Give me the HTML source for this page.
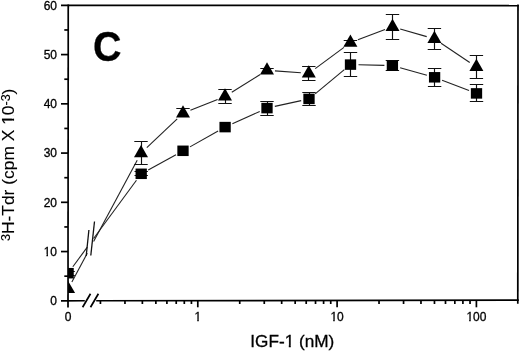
<!DOCTYPE html><html><head><meta charset="utf-8"><style>html,body{margin:0;padding:0;background:#fff;width:520px;height:351px;overflow:hidden}svg{display:block}text{font-family:"Liberation Sans",Arial,Helvetica,sans-serif;fill:#000;stroke:#000;stroke-width:0.3px}</style></head><body>
<svg width="520" height="351" viewBox="0 0 520 351">
<rect width="520" height="351" fill="#fff"/>
<defs><clipPath id="pa"><rect x="68.1" y="0" width="449.9" height="300.7"/></clipPath></defs>
<g fill="none" stroke="#222" stroke-width="1.1">
<line x1="71.88" y1="281.95" x2="87.30" y2="253.23"/>
<line x1="93.60" y1="241.50" x2="137.22" y2="160.25"/>
<line x1="146.80" y1="147.69" x2="177.20" y2="118.81"/>
<line x1="190.42" y1="110.31" x2="217.58" y2="99.39"/>
<line x1="231.79" y1="92.18" x2="260.21" y2="74.52"/>
<line x1="274.98" y1="70.89" x2="300.82" y2="72.81"/>
<line x1="315.23" y1="68.64" x2="343.97" y2="47.36"/>
<line x1="357.89" y1="39.79" x2="385.01" y2="29.61"/>
<line x1="400.19" y1="29.00" x2="426.71" y2="36.60"/>
<line x1="441.05" y1="43.25" x2="469.75" y2="62.45"/>
<line x1="72.84" y1="266.76" x2="87.30" y2="247.09"/>
<line x1="93.60" y1="238.53" x2="136.46" y2="180.24"/>
<line x1="148.21" y1="169.94" x2="175.99" y2="154.66"/>
<line x1="189.97" y1="146.88" x2="218.13" y2="131.02"/>
<line x1="232.39" y1="123.80" x2="259.71" y2="111.40"/>
<line x1="274.81" y1="106.39" x2="301.19" y2="100.61"/>
<line x1="315.17" y1="93.80" x2="344.33" y2="69.70"/>
<line x1="358.50" y1="64.79" x2="384.40" y2="65.41"/>
<line x1="400.11" y1="67.74" x2="426.89" y2="75.16"/>
<line x1="442.07" y1="80.17" x2="469.03" y2="90.53"/>
</g>
<g stroke="#111" stroke-width="1.3" fill="none">
<line x1="88.9" y1="230" x2="86.2" y2="256"/>
<line x1="94.5" y1="221.5" x2="90.8" y2="255.5"/>
</g>
<g clip-path="url(#pa)">
<g stroke="#111" stroke-width="1.15" fill="none">
<path d="M141.5 141.5V153.2M134.3 141.5h13.4"/>
<path d="M141.5 153.2V164.5M134.3 164.5h13.4"/>
<path d="M183.5 108.5V113.3M176.3 108.5h13.4"/>
<path d="M225.5 89.5V96.4M218.3 89.5h13.4"/>
<path d="M225.5 96.4V103.5M218.3 103.5h13.4"/>
<path d="M267.5 68.5V70.3M260.3 68.5h13.4"/>
<path d="M308.5 66.5V73.4M302.1 66.5h13.4"/>
<path d="M308.5 73.4V80.5M302.1 80.5h13.4"/>
<path d="M350.5 40.5V42.6M343.7 40.5h13.4"/>
<path d="M392.5 14.5V26.8M385.8 14.5h13.4"/>
<path d="M392.5 26.8V39.5M385.8 39.5h13.4"/>
<path d="M434.5 28.5V38.8M427.7 28.5h13.4"/>
<path d="M434.5 38.8V49.5M427.7 49.5h13.4"/>
<path d="M476.5 55.5V66.9M469.7 55.5h13.4"/>
<path d="M476.5 66.9V78.5M469.7 78.5h13.4"/>
<path d="M68.5 271.5V273.2M61.4 271.5h13.4"/>
<path d="M68.5 273.2V275.5M61.4 275.5h13.4"/>
<path d="M141.5 171.5V173.8M134.5 171.5h13.4"/>
<path d="M141.5 173.8V175.5M134.5 175.5h13.4"/>
<path d="M267.5 101.5V108.1M260.3 101.5h13.4"/>
<path d="M267.5 108.1V115.5M260.3 115.5h13.4"/>
<path d="M309.5 92.5V98.9M302.3 92.5h13.4"/>
<path d="M309.5 98.9V105.5M302.3 105.5h13.4"/>
<path d="M350.5 52.5V64.6M343.8 52.5h13.4"/>
<path d="M350.5 64.6V76.5M343.8 76.5h13.4"/>
<path d="M392.5 60.5V65.6M385.7 60.5h13.4"/>
<path d="M392.5 65.6V70.5M385.7 70.5h13.4"/>
<path d="M434.5 68.5V77.3M427.9 68.5h13.4"/>
<path d="M434.5 77.3V86.5M427.9 86.5h13.4"/>
<path d="M476.5 84.5V93.4M469.8 84.5h13.4"/>
<path d="M476.5 93.4V101.5M469.8 101.5h13.4"/>
</g>
<g fill="#000">
<path d="M68.1 280.9L75.1 293.1L61.1 293.1Z"/>
<path d="M141.0 145.1L148.0 157.3L134.0 157.3Z"/>
<path d="M183.0 105.2L190.0 117.4L176.0 117.4Z"/>
<path d="M225.0 88.3L232.0 100.5L218.0 100.5Z"/>
<path d="M267.0 62.2L274.0 74.4L260.0 74.4Z"/>
<path d="M308.8 65.3L315.8 77.5L301.8 77.5Z"/>
<path d="M350.4 34.5L357.4 46.7L343.4 46.7Z"/>
<path d="M392.5 18.7L399.5 30.9L385.5 30.9Z"/>
<path d="M434.4 30.7L441.4 42.9L427.4 42.9Z"/>
<path d="M476.4 58.8L483.4 71.0L469.4 71.0Z"/>
<rect x="62.45" y="267.95" width="11.30" height="10.50"/>
<rect x="135.55" y="168.55" width="11.30" height="10.50"/>
<rect x="177.35" y="145.55" width="11.30" height="10.50"/>
<rect x="219.45" y="121.85" width="11.30" height="10.50"/>
<rect x="261.35" y="102.85" width="11.30" height="10.50"/>
<rect x="303.35" y="93.65" width="11.30" height="10.50"/>
<rect x="344.85" y="59.35" width="11.30" height="10.50"/>
<rect x="386.75" y="60.35" width="11.30" height="10.50"/>
<rect x="428.95" y="72.05" width="11.30" height="10.50"/>
<rect x="470.85" y="88.15" width="11.30" height="10.50"/>
</g></g>
<g stroke="#000" stroke-width="1.7" fill="none" stroke-linecap="butt">
<path d="M61 5.35L518.85 5.55"/>
<path d="M518.0 4.5L517.8 303.7"/>
<path d="M68.25 4.5L68.0 307.4"/>
<path d="M61 300.80L84.8 300.77M96.2 300.75L518.8 300.20"/>
<path d="M82.6 307.3L90.5 293.8M90.5 307.3L98.4 293.8"/>
<path d="M64.3 276.18H68"/>
<path d="M61 251.56H68"/>
<path d="M64.3 226.94H68"/>
<path d="M61 202.32H68"/>
<path d="M64.3 177.70H68"/>
<path d="M61 153.08H68"/>
<path d="M64.3 128.45H68"/>
<path d="M61 103.83H68"/>
<path d="M64.3 79.21H68"/>
<path d="M61 54.59H68"/>
<path d="M64.3 29.97H68"/>
<path d="M100.43 300.75V304.0"/>
<path d="M124.96 300.72V304.0"/>
<path d="M142.37 300.69V304.0"/>
<path d="M155.87 300.68V304.0"/>
<path d="M166.90 300.66V304.0"/>
<path d="M176.22 300.65V304.0"/>
<path d="M184.30 300.64V304.0"/>
<path d="M191.43 300.63V304.0"/>
<path d="M197.80 300.62V307.3"/>
<path d="M239.73 300.57V304.0"/>
<path d="M264.26 300.53V304.0"/>
<path d="M281.67 300.51V304.0"/>
<path d="M295.17 300.49V304.0"/>
<path d="M306.20 300.48V304.0"/>
<path d="M315.52 300.47V304.0"/>
<path d="M323.60 300.46V304.0"/>
<path d="M330.73 300.45V304.0"/>
<path d="M337.10 300.44V307.3"/>
<path d="M379.03 300.38V304.0"/>
<path d="M403.56 300.35V304.0"/>
<path d="M420.97 300.33V304.0"/>
<path d="M434.47 300.31V304.0"/>
<path d="M445.50 300.30V304.0"/>
<path d="M454.82 300.28V304.0"/>
<path d="M462.90 300.27V304.0"/>
<path d="M470.03 300.26V304.0"/>
<path d="M476.40 300.25V307.3"/>
</g>
<g font-size="12" text-anchor="end">
<text x="57" y="305.0">0</text>
<text x="57" y="255.8">10</text>
<text x="57" y="206.6">20</text>
<text x="57" y="157.3">30</text>
<text x="57" y="108.1">40</text>
<text x="57" y="58.9">50</text>
<text x="57" y="9.7">60</text>
</g>
<g font-size="12" text-anchor="middle">
<text x="68.1" y="321.4">0</text>
<text x="197.8" y="321.4">1</text>
<text x="337.1" y="321.4">10</text>
<text x="476.4" y="321.4">100</text>
</g>
<text transform="translate(93.0,61.3) scale(0.94,1.025)" x="0" y="0" font-size="42" font-weight="bold" stroke="#000" stroke-width="0.9">C</text>
<text x="250.3" y="347" font-size="17.2">IGF-1 (nM)</text>
<text transform="translate(13.8,241) rotate(-90)" font-size="17.4" style="stroke-width:0.12px"><tspan font-size="12.5" dy="-4">3</tspan><tspan dy="4">H-Tdr (cpm X 10</tspan><tspan font-size="12.5" dy="-4">-3</tspan><tspan dy="4">)</tspan></text>
<g fill="#fff"><rect x="43.82" y="254.19" width="2.60" height="2.75"/><rect x="47.98" y="254.19" width="2.51" height="2.75"/><rect x="194.63" y="319.80" width="2.60" height="2.75"/><rect x="198.79" y="319.80" width="2.51" height="2.75"/><rect x="330.59" y="319.80" width="2.60" height="2.75"/><rect x="334.75" y="319.80" width="2.51" height="2.75"/><rect x="466.55" y="319.80" width="2.60" height="2.75"/><rect x="470.72" y="319.80" width="2.51" height="2.75"/><rect x="285.25" y="345.02" width="3.52" height="3.13"/><rect x="290.79" y="345.02" width="3.38" height="3.13"/></g>
<g fill="#fff" transform="translate(13.8,241) rotate(-90)"><rect x="116.85" y="-1.91" width="3.46" height="2.97"/><rect x="122.35" y="-1.91" width="3.32" height="2.97"/></g>
</svg></body></html>
